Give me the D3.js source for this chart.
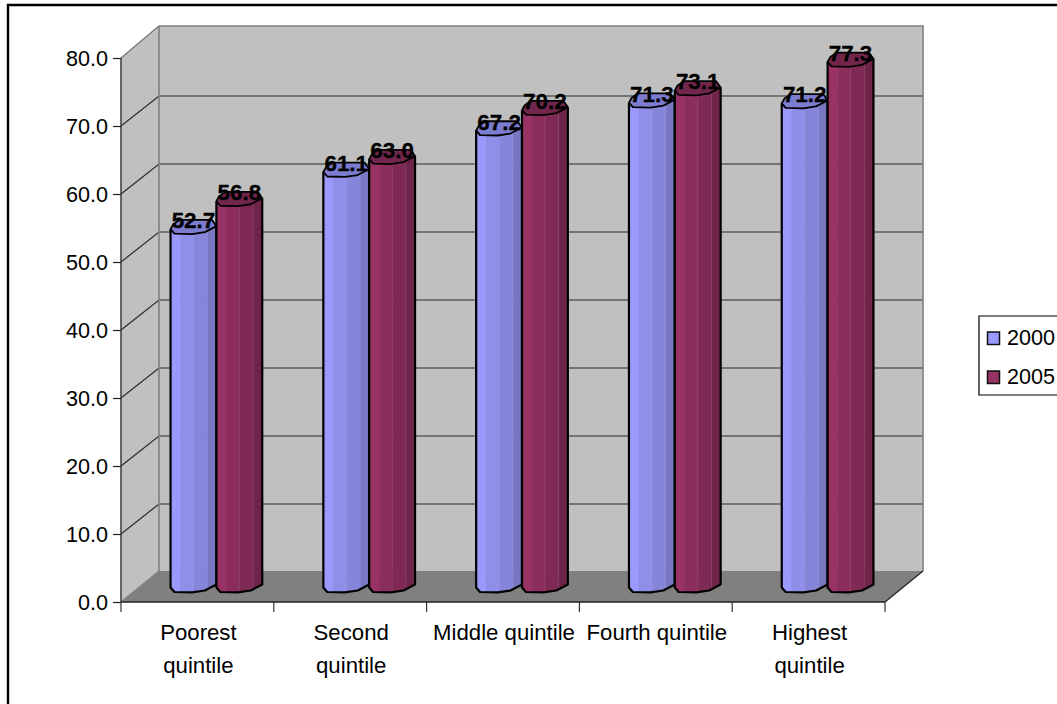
<!DOCTYPE html>
<html><head><meta charset="utf-8">
<script src="https://cdn.jsdelivr.net/npm/d3@7"></script>
<style>html,body{margin:0;padding:0;background:#fff;overflow:hidden}svg{display:block}text{font-family:"Liberation Sans",Arial,sans-serif;fill:#000}</style>
</head><body><svg id="c" width="1057" height="704"></svg>
<script>
const categories = ["Poorest quintile","Second quintile","Middle quintile","Fourth quintile","Highest quintile"];
const categoryLines = [["Poorest","quintile"],["Second","quintile"],["Middle quintile"],["Fourth quintile"],["Highest","quintile"]];
const seriesNames = ["2000","2005"];
const values2000 = [52.7,61.1,67.2,71.3,71.2];
const values2005 = [56.8,63.0,70.2,73.1,77.3];
const yTicks = [0,10,20,30,40,50,60,70,80];

const svg = d3.select("#c");
const W = {left:121,right:885,top:58,bottom:602,dx:38,dy:31};
const x = d3.scaleBand().domain(categories).range([W.left,W.right]);
const y = d3.scaleLinear().domain([0,80]).range([W.bottom,W.top]);
const col = {
  "2000":{fill:"#9999ff",bands:["#9a9afc","#8f8fea","#8585d9","#7878c2"],top:"#7c7cd0",seam:"#a4a4f0"},
  "2005":{fill:"#993366",bands:["#993366","#8b2e5c","#7f2a54","#6f2549"],top:"#72264c",seam:"#a25680"}
};
// outer frame
svg.append("path").attr("d","M8,704V5H1057").attr("fill","none").attr("stroke","#000").attr("stroke-width",2.4);

// walls
const g = svg.append("g");
const backTop = y(80)-W.dy-1, backBot = y(0)-W.dy;
g.append("polygon").attr("points",[[W.left,y(80)],[W.left+W.dx,backTop],[W.right+W.dx,backTop],[W.right+W.dx,backBot],[W.left+W.dx,backBot],[W.left,y(0)]].join(" ")).attr("fill","#c0c0c0");
g.append("polygon").attr("points",[[W.left,y(0)],[W.left+W.dx,backBot],[W.right+W.dx,backBot],[W.right,y(0)]].join(" ")).attr("fill","#808080");
// grid
yTicks.slice(1,-1).forEach(t=>{
  g.append("path").attr("d",`M${W.left},${y(t)}L${W.left+W.dx},${y(t)-W.dy+1}H${W.right+W.dx}`).attr("fill","none").attr("stroke","#2a2a2a").attr("stroke-width",1.2);
});
// wall edges
g.append("path").attr("d",`M${W.left},${y(80)}L${W.left+W.dx},${backTop}H${W.right+W.dx}V${backBot}`).attr("fill","none").attr("stroke","#808080").attr("stroke-width",1.6);
g.append("path").attr("d",`M${W.left+W.dx},${backTop}V${backBot}`).attr("fill","none").attr("stroke","#808080").attr("stroke-width",1.6);
g.append("path").attr("d",`M${W.left},${y(0)}L${W.left+W.dx},${backBot}`).attr("stroke","#808080").attr("stroke-width",1.2);
g.append("path").attr("d",`M${W.right},${y(0)}L${W.right+W.dx},${backBot}`).attr("stroke","#222").attr("stroke-width",1.2);

// axes
const yAxis = d3.axisLeft(y).tickValues(yTicks).tickFormat(d3.format(".1f")).tickSize(8).tickPadding(5);
const ya = svg.append("g").attr("transform",`translate(${W.left},0)`).call(yAxis);
ya.selectAll("text").style("font-size","21.6px").attr("dy","0.34em");
ya.selectAll("line").attr("stroke","#222").attr("stroke-width",1.2);
ya.select(".domain").attr("d",`M0,${y(80)}V${y(0)}`).attr("stroke","#444").attr("stroke-width",1.6);
const xa = svg.append("g").attr("transform",`translate(0,${W.bottom})`);
xa.append("line").attr("x1",W.left).attr("x2",W.right).attr("stroke","#222").attr("stroke-width",1.4);
const edges = categories.map(c=>x(c)).concat([W.right]);
xa.selectAll("line.t").data(edges).join("line").attr("class","t").attr("x1",d=>d).attr("x2",d=>d).attr("y2",10).attr("stroke","#333").attr("stroke-width",1.2);
categories.forEach((c,i)=>{
  const t = xa.append("text").attr("text-anchor","middle").style("font-size","22.2px");
  categoryLines[i].forEach((l,j)=>t.append("tspan").attr("x",x(c)+x.bandwidth()/2+1).attr("y",38+j*32.5).text(l));
});

// bars: an octagonal cylinder sheared into the oblique projection
const barW = x.bandwidth()*0.3, depthOff = 14.5;
const rim = [[0,0],[.085,.3],[.47,.33],[.75,.2],[1,-.2]];
const back = [[.9,-.62],[.2,-.62],[.06,-.33]];
function barX(c,s){ return x(c)+x.bandwidth()/2 + W.dx/2 - barW + s*barW; }
const rimY = u=>{
  for(let k=0;k<rim.length-1;k++){ if(u<=rim[k+1][0]){const a=rim[k],b=rim[k+1];return a[1]+(b[1]-a[1])*(u-a[0])/(b[0]-a[0]);}}
  return rim[rim.length-1][1];
};
const barsG = svg.append("g"), labelsG = svg.append("g");
[values2000,values2005].forEach((vals,s)=>{
  const name = seriesNames[s], cc = col[name];
  vals.forEach((v,i)=>{
    const c = categories[i], bx = barX(c,s);
    const yTop = y(v)-depthOff, yBot = y(0)-depthOff;
    const pt = (p,yy)=>[bx+p[0]*barW, yy+p[1]*15];
    const gb = barsG.append("g");
    const bandEdges = [[0,.22],[.22,.5],[.5,.8],[.8,1]];
    bandEdges.forEach((b,k)=>{
      const us=[b[0]]; rim.forEach(r=>{if(r[0]>b[0]&&r[0]<b[1])us.push(r[0]);}); us.push(b[1]);
      const top = us.map(u=>[bx+u*barW,yTop+rimY(u)*15]);
      const bot = us.slice().reverse().map(u=>[bx+u*barW,yBot+rimY(u)*15]);
      gb.append("polygon").attr("points",top.concat(bot).join(" ")).attr("fill",cc.bands[k]).attr("stroke",cc.bands[k]).attr("stroke-width",.5);
    });
    [.5,.8].forEach(u=>gb.append("line").attr("x1",bx+u*barW).attr("x2",bx+u*barW)
      .attr("y1",yTop+rimY(u)*15).attr("y2",yBot+rimY(u)*15).attr("stroke",cc.seam).attr("stroke-width",.7).attr("opacity",.7));
    gb.append("path").attr("d","M"+[[bx,yTop],[bx,yBot]].join("L")+"L"+rim.slice(1).map(p=>pt(p,yBot)).join("L")+"L"+pt([1,-.2],yTop))
      .attr("fill","none").attr("stroke","#000").attr("stroke-width",2.2).attr("stroke-linejoin","round");
    gb.append("polygon").attr("points",rim.concat(back).map(p=>pt(p,yTop)).join(" ")).attr("fill",cc.top).attr("stroke","#000").attr("stroke-width",1.8).attr("stroke-linejoin","round");
    labelsG.append("text").attr("x",bx+barW/2).attr("y",yTop-1).attr("text-anchor","middle").style("font-size","22.4px").style("font-weight","bold").style("stroke","#000").style("stroke-width",.3).text(d3.format(".1f")(v));
  });
});

// legend
const lg = svg.append("g");
lg.append("path").attr("d","M1058,316H979V395H1058").attr("fill","#fff").attr("stroke","#000").attr("stroke-width",1.2);
seriesNames.forEach((n,i)=>{
  const ly = d3.scalePoint().domain(seriesNames).range([332,371])(n);
  lg.append("rect").attr("x",987.5).attr("y",ly).attr("width",12).attr("height",12.5).attr("fill",col[n].fill).attr("stroke","#111").attr("stroke-width",1.5);
  lg.append("text").attr("x",1007).attr("y",ly+13).style("font-size","21.6px").text(n);
});
</script></body></html>
